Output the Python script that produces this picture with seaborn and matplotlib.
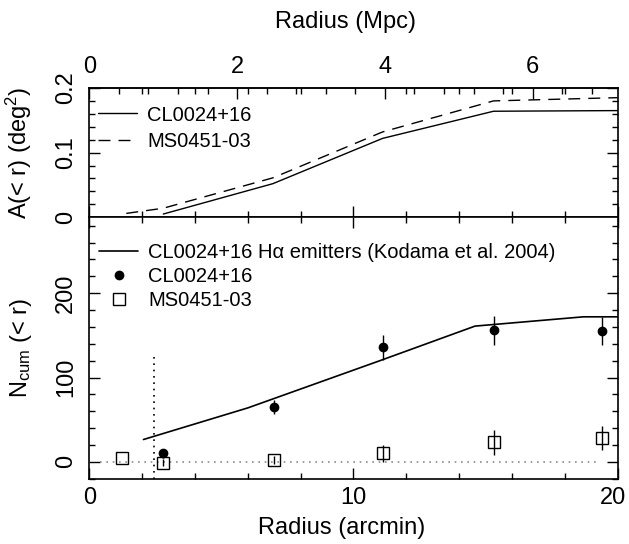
import numpy as np
import pandas as pd
import seaborn as sns
import matplotlib.pyplot as plt
from matplotlib.ticker import MultipleLocator, FixedLocator, FixedFormatter
from matplotlib.lines import Line2D
from matplotlib.legend_handler import HandlerLine2D
from matplotlib.transforms import ScaledTranslation

# --- data (radius in arcmin) ---
area_r_cl = [2.8, 6.95, 11.1, 15.3, 20.0]
area_cl = [0.005, 0.052, 0.122, 0.164, 0.165]
area_r_ms = [1.4, 2.8, 6.95, 11.1, 15.3, 20.0]
area_ms = [0.006, 0.014, 0.061, 0.132, 0.180, 0.185]

ha_r = [2.05, 6.0, 11.0, 14.6, 18.7, 20.0]
ha_n = [26.5, 64, 120, 161, 172, 172]

cl_r = [2.8, 7.0, 11.1, 15.3, 19.4]
cl_n = [10, 65, 136, 156, 155]
cl_err = [5, 8, 15, 17, 17]

ms_r = [1.25, 2.8, 7.0, 11.1, 15.3, 19.4]
ms_n = [4, -1, 2, 10, 23, 28]
ms_err = [0, 4, 5, 10, 15, 14]

cut_radius = 2.45
cut_top = 125
zero_from, zero_to = 0.4, 19.3
mpc_per_arcmin = 0.3575

arcmin_ticks = [0, 10, 20]
mpc_ticks = [0, 2, 4, 6]
area_ticks = [0, 0.1, 0.2]
area_labels = ["0", "0.1", "0.2"]
n_ticks = [0, 100, 200]

sns.set_theme(style="ticks")
plt.rcParams['font.family'] = ['Liberation Sans', 'DejaVu Sans']
plt.rcParams['mathtext.fontset'] = 'custom'
plt.rcParams['mathtext.rm'] = 'Liberation Sans'
plt.rcParams['mathtext.it'] = 'Liberation Sans:italic'
plt.rcParams['text.color'] = 'black'
plt.rcParams['axes.labelcolor'] = 'black'

FS = 17
fig = plt.figure(figsize=(6.29, 5.44), dpi=100)
ax1 = fig.add_axes([0.142, 0.6006, 0.840, 0.2377])
ax2 = fig.add_axes([0.142, 0.120, 0.840, 0.4805])


def style(ax):
    for s in ax.spines.values():
        s.set_linewidth(1.2)
        s.set_color('black')
    ax.tick_params(which='both', direction='in', top=True, right=True,
                   color='black', width=1.0, labelsize=FS, labelcolor='black')
    ax.tick_params(which='major', length=8)
    ax.tick_params(which='minor', length=4.5)
    ax.tick_params(axis='y', labelrotation=90, pad=9)
    ax.tick_params(axis='x', pad=6)


# --- top panel: area ---
sns.lineplot(x=area_r_cl, y=area_cl, ax=ax1, color='black', lw=1.0,
             estimator=None, sort=False, label='CL0024+16')
sns.lineplot(x=area_r_ms, y=area_ms, ax=ax1, color='black', lw=1.0,
             estimator=None, sort=False, label='MS0451-03', dashes=False)
ax1.lines[1].set_dashes((8.6, 5.8))
ax1.set_xlim(0, 20)
ax1.set_ylim(0, 0.2)
style(ax1)
ax1.tick_params(top=False, labelbottom=False)
ax1.xaxis.set_major_locator(FixedLocator(arcmin_ticks))
ax1.xaxis.set_minor_locator(MultipleLocator(2))
ax1.yaxis.set_major_locator(FixedLocator(area_ticks))
ax1.yaxis.set_major_formatter(FixedFormatter(area_labels))
ax1.yaxis.set_minor_locator(MultipleLocator(0.02))
for t in ax1.get_yticklabels():
    t.set_va('center')
ax1.set_ylabel('A(< r) (deg$^2$)', fontsize=FS)
ax1.yaxis.set_label_coords(-0.105, 0.5)

sec = ax1.secondary_xaxis('top', functions=(lambda a: a * mpc_per_arcmin,
                                            lambda m: m / mpc_per_arcmin))
sec.xaxis.set_major_locator(FixedLocator(mpc_ticks))
sec.xaxis.set_minor_locator(MultipleLocator(0.4))
sec.tick_params(which='both', direction='in', width=1.0, labelsize=FS, pad=7,
                color='black', labelcolor='black')
sec.tick_params(which='major', length=8)
sec.tick_params(which='minor', length=4.5)
sec.spines['top'].set_linewidth(1.2)
sec.set_xlabel('Radius (Mpc)', fontsize=FS, labelpad=20)
sec.xaxis.label.set_x(0.485)

leg1 = ax1.legend(loc='center left', bbox_to_anchor=(0.0165, 0.69),
                  frameon=False, fontsize=14.5, handlelength=1.95,
                  handletextpad=0.5, labelspacing=0.35, borderpad=0,
                  borderaxespad=0)
leg1.get_lines()[1].set_dashes((8.6, 5.8))

# --- bottom panel: cumulative counts ---
ax2.hlines(0, zero_from, zero_to, colors='#8c8c8c', lw=1.2,
           linestyles=(0, (1, 2.8)))
ax2.vlines(cut_radius, -20, cut_top, colors='black', lw=1.2,
           linestyles=(0, (1, 2.8)))
sns.lineplot(x=ha_r, y=ha_n, ax=ax2, color='black', lw=1.2,
             estimator=None, sort=False, legend=False)
ax2.errorbar(ms_r, ms_n, yerr=ms_err, fmt='s', ms=9, mfc='none', mec='black',
             mew=1.0, ecolor='black', elinewidth=1.0, capsize=0)
ax2.errorbar(cl_r, cl_n, yerr=cl_err, fmt='o', ms=6, mfc='black', mec='black',
             ecolor='black', elinewidth=1.0, capsize=0)
ax2.set_xlim(0, 20)
ax2.set_ylim(-20, 290)
style(ax2)
ax2.xaxis.set_major_locator(FixedLocator(arcmin_ticks))
ax2.xaxis.set_minor_locator(MultipleLocator(2))
ax2.yaxis.set_major_locator(FixedLocator(n_ticks))
ax2.yaxis.set_minor_locator(MultipleLocator(20))
for t in ax2.get_yticklabels():
    t.set_va('center')
ax2.set_xlabel('Radius (arcmin)', fontsize=FS, labelpad=6)
ax2.xaxis.label.set_x(0.478)
ax2.set_ylabel(r'N$_{\mathrm{cum}}$ (< r)', fontsize=FS)
ax2.yaxis.set_label_coords(-0.105, 0.5)

# nudge the last bottom tick label so it stays inside the figure
last = ax2.xaxis.get_major_ticks()[-1].label1
last.set_transform(last.get_transform() + ScaledTranslation(-5 / 100, 0, fig.dpi_scale_trans))


class RightMarker(HandlerLine2D):
    def get_xdata(self, legend, xdescent, ydescent, width, height, fontsize):
        xd, xm = super().get_xdata(legend, xdescent, ydescent, width, height, fontsize)
        return xd, [-xdescent + 0.83 * width]


handles = [
    Line2D([], [], color='black', lw=1.2),
    Line2D([], [], ls='none', marker='o', ms=6, mfc='black', mec='black'),
    Line2D([], [], ls='none', marker='s', ms=9, mfc='none', mec='black', mew=1.0),
]
labels = ['CL0024+16 Hα emitters (Kodama et al. 2004)', 'CL0024+16', 'MS0451-03']
ax2.legend(handles, labels, loc='center left', bbox_to_anchor=(0.0183, 0.775),
           frameon=False, fontsize=14.5, handlelength=1.95, handletextpad=0.5,
           labelspacing=0.25, borderpad=0, borderaxespad=0,
           handler_map={handles[1]: RightMarker(), handles[2]: RightMarker()})

fig.savefig('out.png', dpi=100)
